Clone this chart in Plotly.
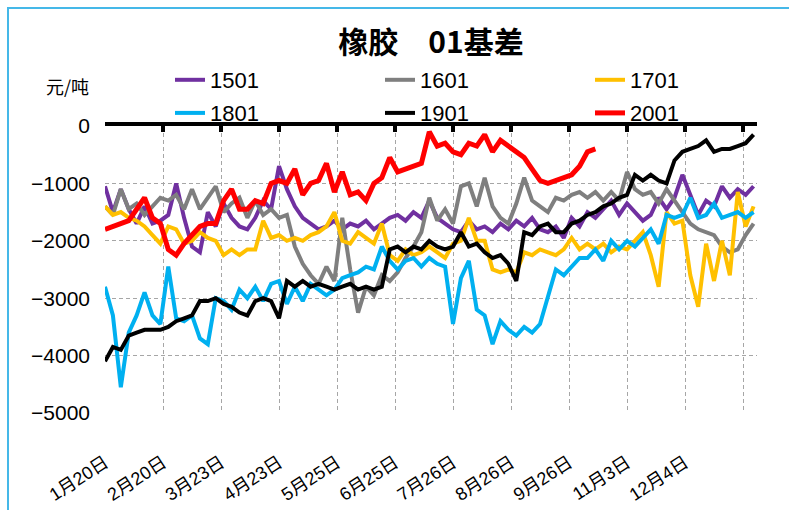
import plotly.graph_objects as go

# Rubber January-contract basis (yuan/ton), sampled every third trading day
STEP = 3

s1501 = [-1050, -1500, -1100, -1450, -1700, -1400, -1700, -1650, -1550, -1000,
         -1600, -2100, -2200, -1500, -1750, -1350, -1600, -1750, -1800, -1600,
         -1300, -1450, -700, -1100, -1400, -1600, -1700, -1800, -1750, -1650,
         -1800, -1700, -1750, -1650, -1800, -1700, -1600, -1550, -1650, -1500,
         -1600, -1300, -1600, -1700, -1800, -1850, -1650, -1800, -1750, -1850,
         -1700, -1800, -1650, -1750, -1600, -1800, -1850, -1750, -1950, -1600,
         -1750, -1500, -1600, -1450, -1300, -1550, -1350, -1500, -1650, -1550,
         -1250, -1450, -1250, -850, -1200, -1550, -1300, -1400, -1050, -1250,
         -1100, -1200, -1050]

s1601 = [-1400, -1550, -1100, -1450, -1350, -1550, -1400, -1250, -1300, -1200,
         -1450, -1100, -1450, -1250, -1050, -1500, -1350, -1250, -1600, -1300,
         -1550, -1450, -1600, -1550, -2100, -2400, -2600, -2750, -2450, -2700,
         -1600, -2500, -3250, -2800, -2950, -2600, -2700, -2550, -2300, -2100,
         -1850, -1250, -1650, -1450, -1700, -1050, -1000, -1400, -900, -1400,
         -1600, -1700, -1350, -900, -1300, -1400, -1500, -1250, -1300, -1200,
         -1150, -1250, -1150, -1300, -1150, -1300, -800, -1100, -1200, -1150,
         -1350, -1100, -1300, -1500, -1700, -1800, -1850, -1900, -2100, -2200,
         -2150, -1900, -1700]

s1701 = [-1400, -1550, -1500, -1600, -1650, -1750, -1900, -2050, -1750, -1800,
         -2050, -2000, -1850, -1950, -2000, -2250, -2150, -2250, -2150, -2150,
         -1650, -1950, -1900, -2000, -1950, -2000, -1900, -1850, -1750, -1500,
         -2000, -2050, -1850, -1950, -2050, -1700, -2250, -2350, -2150, -2250,
         -2200, -2100, -2200, -2300, -2050, -2000, -1600, -2000, -2000, -2500,
         -2550, -2500, -2550, -2200, -2250, -2150, -2200, -2250, -2150, -1950,
         -2150, -2050, -2150, -2050, -2200, -2100, -2150, -2000, -1850, -2250,
         -2800, -1500, -1700, -1650, -2600, -3150, -2050, -2700, -2000, -2600,
         -1150, -1750, -1400]

s1801 = [-2800, -3300, -4550, -3600, -3300, -2900, -3300, -3450, -2450, -3350,
         -3400, -3300, -3700, -3800, -3000, -3050, -3200, -2850, -3000, -2800,
         -3050, -2750, -2700, -3100, -2800, -3050, -2750, -2850, -2950, -2850,
         -2650, -2600, -2550, -2450, -2500, -2100, -2350, -2500, -2350, -2300,
         -2450, -2300, -2400, -2450, -3450, -2650, -2350, -3200, -3300, -3800,
         -3400, -3550, -3650, -3500, -3600, -3450, -2950, -2500, -2600, -2450,
         -2300, -2300, -2150, -2350, -2000, -2150, -2000, -2100, -1950, -1800,
         -2050, -1550, -1600, -1550, -1250, -1600, -1550, -1350, -1600, -1550,
         -1500, -1600, -1500]

s1901 = [-4100, -3850, -3900, -3650, -3600, -3550, -3550, -3550, -3500, -3400,
         -3350, -3300, -3050, -3050, -3000, -3100, -3150, -3250, -3300, -3050,
         -3000, -3050, -3350, -2700, -2800, -2700, -2800, -2750, -2800, -2850,
         -2800, -2750, -2850, -2800, -2850, -2800, -2150, -2100, -2200, -2100,
         -2150, -2000, -2100, -2150, -2100, -1850, -2100, -2050, -2200, -2300,
         -2250, -2400, -2700, -1850, -1900, -1750, -1700, -1850, -1850, -1700,
         -1650, -1550, -1500, -1400, -1350, -1250, -1200, -850, -950, -850,
         -950, -1000, -600, -450, -400, -350, -250, -450, -400, -400,
         -350, -300, -150]

s2001 = [-1800, -1750, -1700, -1650, -1450, -1250, -1600, -1700, -2150, -2250,
         -2050, -1900, -1750, -1700, -1700, -1300, -1100, -1450, -1450, -1300,
         -1350, -1000, -950, -1000, -750, -1200, -1000, -950, -650, -1150,
         -800, -1200, -1150, -1300, -1000, -900, -550, -800, -750, -700,
         -650, -100, -350, -300, -450, -500, -300, -350, -150, -450,
         -250, -350, -450, -550, -750, -950, -1000, -950, -900, -850,
         -700, -450, -400]

# category-axis tick positions (trading-day index) and their labels
tick_days = [0, 22, 44, 66, 88, 110, 132, 154, 176, 198, 220, 242]
tick_labels = ["1月20日", "2月20日", "3月23日", "4月23日", "5月25日", "6月25日",
               "7月26日", "8月26日", "9月26日", "11月3日", "12月4日", ""]
y_ticks = [0, -1000, -2000, -3000, -4000, -5000]

# name, values, colour, line width, legend column
series = [
    ("1501", s1501, "#7030A0", 4, "legend"),
    ("1601", s1601, "#7F7F7F", 4, "legend2"),
    ("1701", s1701, "#FFC000", 4, "legend3"),
    ("1801", s1801, "#00B0F0", 4, "legend"),
    ("1901", s1901, "#000000", 4, "legend2"),
    ("2001", s2001, "#FF0000", 5, "legend3"),
]

NUM_FONT = "Liberation Sans Narrow, Liberation Sans, Arial, sans-serif"
CJK_FONT = "Noto Sans CJK SC, sans-serif"
GRID = "#A6A6A6"

fig = go.Figure()
for name, vals, color, width, leg in series:
    fig.add_trace(go.Scatter(
        x=list(range(0, STEP * len(vals), STEP)), y=vals, name=name,
        mode="lines", line=dict(color=color, width=width),
        legend=leg, legendgroup=name, hoverinfo="skip"))

# carrier for the top axis (line at y = 0 with inward tick marks)
fig.add_trace(go.Scatter(x=[], y=[], xaxis="x2", showlegend=False,
                         hoverinfo="skip"))

legend_common = dict(orientation="v", xanchor="left", yanchor="top",
                     y=(413 - 59) / 287,
                     font=dict(family=NUM_FONT, size=22, color="black"),
                     bgcolor="rgba(0,0,0,0)", tracegroupgap=1.5, itemwidth=30)

fig.update_layout(
    width=789, height=510,
    margin=dict(l=105, r=32, t=126, b=97, autoexpand=False),
    paper_bgcolor="white", plot_bgcolor="white",
    title=dict(text="橡胶\u300001基差", x=0.5, xref="paper", xanchor="center",
               y=1 - 42 / 510, yanchor="middle",
               font=dict(family=CJK_FONT, size=30, color="black",
                         weight="bold")),
    legend=dict(x=(170 - 105) / 652, **legend_common),
    legend2=dict(x=(380 - 105) / 652, **legend_common),
    legend3=dict(x=(590 - 105) / 652, **legend_common),
    xaxis=dict(range=[0, 247.3], tickmode="array", tickvals=tick_days,
               ticktext=tick_labels, tickangle=-33, ticks="",
               showgrid=True, gridcolor=GRID, griddash="4px,3px", gridwidth=1,
               zeroline=False, showline=False, ticklabelstandoff=35,
               automargin=False,
               tickfont=dict(family="Liberation Sans, " + CJK_FONT, size=18,
                             color="black")),
    xaxis2=dict(overlaying="x", matches="x", side="top", anchor="y",
                tickmode="array", tickvals=tick_days, showticklabels=False,
                showline=True, linecolor="black", linewidth=4,
                ticks="inside", ticklen=6, tickwidth=3.5, tickcolor="black",
                showgrid=False, zeroline=False, automargin=False),
    yaxis=dict(range=[-5000, 0], tickmode="array", tickvals=y_ticks,
               showgrid=True, gridcolor=GRID, griddash="4px,3px", gridwidth=1,
               zeroline=False, showline=False, ticks="",
               ticklabelstandoff=14, automargin=False,
               tickfont=dict(family=NUM_FONT, size=21, color="black")),
    annotations=[dict(text="元/吨", xref="paper", yref="paper",
                      x=(67 - 105) / 652, y=(413 - 86) / 287,
                      xanchor="center", yanchor="middle", showarrow=False,
                      font=dict(family=CJK_FONT, size=18, color="black"))],
    shapes=[dict(type="rect", xref="paper", yref="paper",
                 x0=(8 - 105) / 652, x1=(800 - 105) / 652,
                 y0=(413 - 520) / 287, y1=(413 - 8) / 287,
                 line=dict(color="#45B8E8", width=2), layer="below")],
    showlegend=True,
)

fig.write_html("out.html")
